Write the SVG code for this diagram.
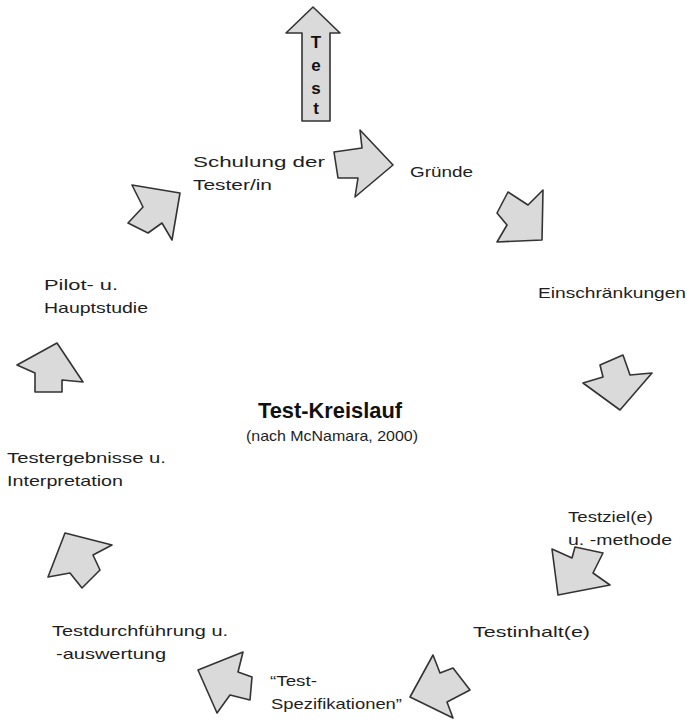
<svg xmlns="http://www.w3.org/2000/svg" width="687" height="722" viewBox="0 0 687 722">
<style>
.arr{fill:#dadada;stroke:#333;stroke-width:1.6;stroke-linejoin:round}
.lbl{font-family:"Liberation Sans",Arial,sans-serif;font-size:15px;fill:#1e1e1e}
.ttl{font-family:"Liberation Sans",Arial,sans-serif;font-size:22px;font-weight:bold;fill:#111}
.tv{font-family:"Liberation Sans",Arial,sans-serif;font-size:17px;font-weight:bold;fill:#111;text-anchor:middle}
</style>
<rect width="687" height="722" fill="#fff"/>
<g id="test-arrow">
<polygon class="arr" points="313,7 340,33 330,33 330,121 302,121 302,33 286,33"/>
<text class="tv" x="316" y="48">T</text>
<text class="tv" x="316" y="71">e</text>
<text class="tv" x="316" y="94">s</text>
<text class="tv" x="316" y="114">t</text>
</g>
<g id="connectors">
<polygon class="arr" points="334,152 338,178 358,178 355,197 393,165 360,130 362,148"/>
<polygon class="arr" points="508,192 528,205 543,190 542,240 497,242 507,225 497,213"/>
<polygon class="arr" points="600,365 623,355 630,375 652,373 620,410 583,383 603,377"/>
<polygon class="arr" points="552,549 572,558 575,547 603,553 593,573 610,585 558,595"/>
<polygon class="arr" points="433,655 440,673 453,668 470,690 447,702 453,718 410,697"/>
<polygon class="arr" points="198,670 243,652 238,672 252,677 250,700 230,695 217,713"/>
<polygon class="arr" points="65,533 112,545 93,555 100,570 82,588 70,573 48,577"/>
<polygon class="arr" points="17,365 57,343 83,382 62,380 62,392 35,392 35,373"/>
<polygon class="arr" points="132,185 180,193 172,240 162,223 148,233 128,223 143,207"/>
</g>
<g id="n-schulung"><text class="lbl" x="193" y="167" textLength="132" lengthAdjust="spacingAndGlyphs">Schulung der</text><text class="lbl" x="193" y="190" textLength="79" lengthAdjust="spacingAndGlyphs">Tester/in</text></g>
<g id="n-gruende"><text class="lbl" x="410" y="177" textLength="63" lengthAdjust="spacingAndGlyphs">Gründe</text></g>
<g id="n-einschraenkungen"><text class="lbl" x="538" y="298" textLength="148" lengthAdjust="spacingAndGlyphs">Einschränkungen</text></g>
<g id="n-testziel"><text class="lbl" x="568" y="522" textLength="85" lengthAdjust="spacingAndGlyphs">Testziel(e)</text><text class="lbl" x="568" y="545" textLength="104" lengthAdjust="spacingAndGlyphs">u. -methode</text></g>
<g id="n-testinhalt"><text class="lbl" x="473" y="637" textLength="117" lengthAdjust="spacingAndGlyphs">Testinhalt(e)</text></g>
<g id="n-spezifikationen"><text class="lbl" x="270" y="686" textLength="47" lengthAdjust="spacingAndGlyphs">“Test-</text><text class="lbl" x="271" y="709" textLength="131" lengthAdjust="spacingAndGlyphs">Spezifikationen”</text></g>
<g id="n-durchfuehrung"><text class="lbl" x="52" y="636" textLength="176" lengthAdjust="spacingAndGlyphs">Testdurchführung u.</text><text class="lbl" x="56" y="659" textLength="110" lengthAdjust="spacingAndGlyphs">-auswertung</text></g>
<g id="n-ergebnisse"><text class="lbl" x="7" y="463" textLength="159" lengthAdjust="spacingAndGlyphs">Testergebnisse u.</text><text class="lbl" x="7" y="486" textLength="116" lengthAdjust="spacingAndGlyphs">Interpretation</text></g>
<g id="n-pilot"><text class="lbl" x="44" y="290" textLength="74" lengthAdjust="spacingAndGlyphs">Pilot- u.</text><text class="lbl" x="44" y="313" textLength="104" lengthAdjust="spacingAndGlyphs">Hauptstudie</text></g>
<g id="title"><text class="ttl" x="258" y="418" textLength="144" lengthAdjust="spacingAndGlyphs">Test-Kreislauf</text><text class="lbl" x="246" y="441" textLength="172" lengthAdjust="spacingAndGlyphs">(nach McNamara, 2000)</text></g>
</svg>
